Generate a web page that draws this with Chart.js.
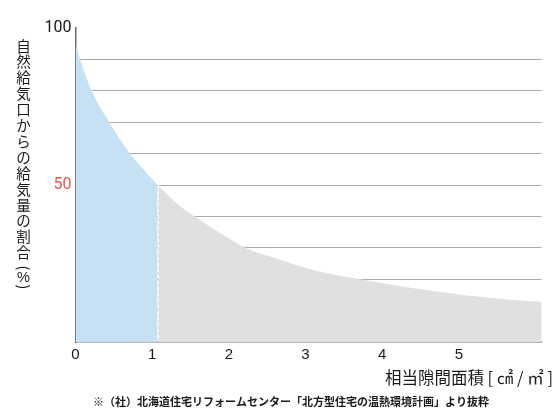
<!DOCTYPE html>
<html>
<head>
<meta charset="utf-8">
<script src="https://cdn.jsdelivr.net/npm/chart.js@4/dist/chart.umd.min.js"></script>
<style>
  html, body { margin: 0; padding: 0; background: #fff; }
  #wrap { width: 560px; height: 420px; position: relative; }
</style>
</head>
<body>
<div id="wrap"><canvas id="c" width="560" height="420"></canvas></div>
<script>
// ---- data ----
const leakageArea = [0, 0.06, 0.21, 0.44, 0.71, 1.07, 1.36, 1.49, 1.89, 2.23, 2.54, 3.1, 3.71, 4.41, 5.06, 5.71, 6.08];
const supplyShare = [95, 90, 80, 70, 60, 50, 43.3, 41, 34.6, 29.8, 27.2, 22.9, 20, 17.1, 15, 13.4, 12.8];
const cutArea = 1.07;            // boundary between blue and grey regions
const xTickValues = [0, 1, 2, 3, 4, 5];
const yGridValues = [0, 10, 20, 30, 40, 50, 60, 70, 80, 90, 100];
const yLabelValues = [50, 100];
const yTitle = '自然給気口からの給気量の割合（%）';
const xTitle = '相当隙間面積 [ ㎠ / ㎡ ]';
const sourceNote = '※（社）北海道住宅リフォームセンター「北方型住宅の温熱環境計画」より抜粋';

const pts = leakageArea.map((x, i) => ({ x: x, y: supplyShare[i] }));
const bluePts = pts.filter(p => p.x <= cutArea);
const greyPts = pts.filter(p => p.x >= cutArea);

const cjk = '"Noto Sans CJK JP", "Noto Sans", sans-serif';

const textPlugin = {
  id: 'texts',
  afterDraw(chart) {
    const ctx = chart.ctx;
    const xs = chart.scales.x, ys = chart.scales.y;
    // dashed white boundary
    const px = xs.getPixelForValue(cutArea);
    const py = ys.getPixelForValue(supplyShare[leakageArea.indexOf(cutArea)]);
    ctx.save();
    ctx.strokeStyle = '#ffffff';
    ctx.lineWidth = 1;
    ctx.setLineDash([3, 3]);
    ctx.beginPath();
    ctx.moveTo(Math.round(px) + 0.5, py);
    ctx.lineTo(Math.round(px) + 0.5, ys.bottom - 1);
    ctx.stroke();
    ctx.restore();

    // vertical y title (upright characters)
    ctx.save();
    ctx.fillStyle = '#1a1a1a';
    ctx.font = '14.5px ' + cjk;
    ctx.textAlign = 'center';
    ctx.textBaseline = 'middle';
    const chars = Array.from(yTitle);
    chars.forEach((ch, i) => {
      if (ch === '（' || ch === '）') {
        ctx.save();
        ctx.translate(23.5, ch === '（' ? 268 : 287);
        ctx.rotate(Math.PI / 2);
        ctx.fillText(ch === '（' ? '(' : ')', 0, 0);
        ctx.restore();
      } else if (ch === '%') {
        ctx.font = '14.5px "Liberation Sans", sans-serif';
        ctx.fillText(ch, 23.5, 277.5);
        ctx.font = '14.5px ' + cjk;
      } else {
        ctx.fillText(ch, 23.5, 46 + i * 15.9);
      }
    });
    ctx.restore();

    // x title
    ctx.save();
    ctx.fillStyle = '#1a1a1a';
    ctx.font = '16.5px ' + cjk;
    ctx.textAlign = 'right';
    ctx.textBaseline = 'middle';
    ctx.fillText(xTitle, 553, 378);
    // source note
    ctx.font = 'bold 11px ' + cjk;
    ctx.textAlign = 'center';
    ctx.fillText(sourceNote, 291, 402);
    ctx.restore();
  }
};

new Chart(document.getElementById('c'), {
  type: 'line',
  data: {
    datasets: [
      { data: bluePts, backgroundColor: '#c6e1f3', borderWidth: 0, pointRadius: 0, fill: 'origin', cubicInterpolationMode: 'monotone' },
      { data: greyPts, backgroundColor: '#e0e0e0', borderWidth: 0, pointRadius: 0, fill: 'origin', cubicInterpolationMode: 'monotone' }
    ]
  },
  options: {
    responsive: false,
    animation: false,
    layout: { padding: { left: 0, right: 18.3, top: 28, bottom: 0 } },
    plugins: { legend: { display: false }, tooltip: { enabled: false } },
    scales: {
      x: {
        type: 'linear',
        min: 0,
        max: 6.08,
        afterBuildTicks: (axis) => { axis.ticks = xTickValues.map(v => ({ value: v })); },
        afterFit: (scale) => { scale.height = 78; },
        grid: { display: false, drawTicks: false },
        border: { display: true, color: '#6e6e6e', width: 1.5 },
        ticks: { color: '#1a1a1a', padding: 4, font: { family: '"Liberation Sans", Roboto, sans-serif', size: 15 }, maxRotation: 0, autoSkip: false }
      },
      y: {
        min: 0,
        max: 100,
        z: 1,
        afterBuildTicks: (axis) => { axis.ticks = yGridValues.map(v => ({ value: v })); },
        afterFit: (scale) => { scale.width = 75.5; },
        grid: {
          drawTicks: false,
          lineWidth: 1,
          color: (c) => (c.tick && (c.tick.value === 0 || c.tick.value === 100)) ? 'rgba(0,0,0,0)' : '#ababab'
        },
        border: { display: true, color: '#6e6e6e', width: 1.5 },
        ticks: {
          padding: 4,
          autoSkip: false,
          font: { family: 'Roboto, "Liberation Sans", sans-serif', size: 16 },
          color: (c) => c.tick && c.tick.value === 50 ? '#e05a52' : '#1a1a1a',
          callback: (v) => yLabelValues.includes(v) ? String(v) : ''
        }
      }
    }
  },
  plugins: [textPlugin]
});
</script>
</body>
</html>
